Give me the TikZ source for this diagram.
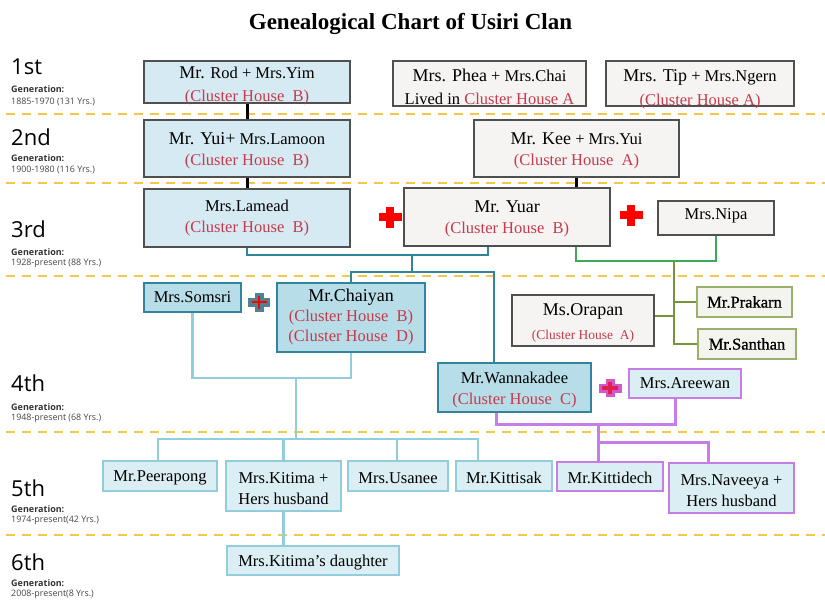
\documentclass[tikz,border=0pt]{standalone}
\usepackage{fontspec}
\setmainfont{Liberation Serif}
\newfontfamily\labfont{Open Sans}
\newfontfamily\semib[FakeBold=0.8]{Liberation Serif}
\usetikzlibrary{calc}
\definecolor{boxblue}{HTML}{D6EAF3}
\definecolor{boxgrey}{HTML}{F6F3F3}
\definecolor{edgegrey}{HTML}{505050}
\definecolor{tealc}{HTML}{31849B}
\definecolor{tealfill}{HTML}{B7DDE8}
\definecolor{lbline}{HTML}{92CDDC}
\definecolor{lbfill}{HTML}{DAEEF3}
\definecolor{purp}{HTML}{C77DE6}
\definecolor{olivec}{HTML}{9BAF6E}
\definecolor{olivefill}{HTML}{F4F4EE}
\definecolor{olivel}{HTML}{77933C}
\definecolor{greenl}{HTML}{3DAA5A}
\definecolor{redt}{HTML}{C43C4C}
\definecolor{gold}{HTML}{F2C94C}
\definecolor{crossteal}{HTML}{4F8394}
\definecolor{crosspink}{HTML}{D457C9}
\definecolor{crossred}{HTML}{E0204F}
\newcommand\cl[1]{\textcolor{redt}{#1}}
\newcommand\bigpart[1]{{\fontsize{18}{21}\selectfont #1}}
\newcommand\hstrut[1]{\rule{0pt}{#1pt}}
\newcommand\dstrut[1]{\rule[-#1pt]{0pt}{#1pt}}
\begin{document}
\begin{tikzpicture}[x=1pt,y=-1pt,
  base/.style={rectangle, inner sep=0pt, align=center, font=\fontsize{16.5}{21}\selectfont},
  wide/.style={font=\fontsize{16.5}{23}\selectfont},
  wider/.style={font=\fontsize{16.5}{24}\selectfont},
  bluebox/.style={base, draw=edgegrey, line width=1.1pt, fill=boxblue},
  greybox/.style={base, draw=edgegrey, line width=1.1pt, fill=boxgrey},
  tealbox/.style={base, draw=tealc, line width=2.5pt, fill=tealfill},
  lbbox/.style={base, draw=lbline, line width=2.8pt, fill=lbfill},
  purpbox/.style={base, draw=purp, line width=2.8pt, fill=lbfill},
  olivebox/.style={base, draw=olivec, line width=1.6pt, fill=olivefill},
  sz/.style 2 args={minimum width=#1pt, minimum height=#2pt},
  genbig/.style={anchor=west, inner sep=0pt, font=\labfont\fontsize{22}{24}\selectfont},
  gensub/.style={anchor=west, inner sep=0pt, text=black!80, font=\labfont\bfseries\fontsize{9}{10}\selectfont},
  gendate/.style={anchor=west, inner sep=0pt, text=black!72, font=\labfont\fontsize{8.9}{10}\selectfont},
  sepline/.style={draw=gold, line width=2pt, dash pattern=on 9pt off 7pt},
  blk/.style={draw=black, line width=3pt},
  tealw/.style={draw=tealc, line width=2.5pt},
  lbw/.style={draw=lbline, line width=2.5pt},
  greenw/.style={draw=greenl, line width=2.5pt},
  olivew/.style={draw=olivel, line width=2pt},
  purpw/.style={draw=purp, line width=3pt},
  redcross/.pic={\fill[red] (-11.5,-4) rectangle (11.5,4); \fill[red] (-4,-10.5) rectangle (4,10.5);},
  tealcross/.pic={\fill[crossteal] (-11,-4.5) rectangle (11,4.5); \fill[crossteal] (-4.5,-9.5) rectangle (4.5,9.5);
                  \fill[red] (-7.5,-1.3) rectangle (7.5,1.3); \fill[red] (-1.3,-6.5) rectangle (1.3,6.5);},
  pinkcross/.pic={\fill[crosspink] (-11.5,-4.5) rectangle (11.5,4.5); \fill[crosspink] (-4.5,-9) rectangle (4.5,9);
                  \fill[crossred] (-8,-1.8) rectangle (8,1.8); \fill[crossred] (-1.8,-6) rectangle (1.8,6);}
]
\useasboundingbox (0,0) rectangle (825,600);
\fill[white] (0,0) rectangle (825,600);

% title
\node[inner sep=0pt, font=\fontsize{23}{26}\selectfont\bfseries] (title) at (410.5,24) {Genealogical Chart of Usiri Clan};

% separator lines
\foreach \yy in {114,183,276,432,535} {\draw[sepline] (6,\yy) -- (825,\yy);}

% generation labels
\node[genbig] (g1a) at (11,67) {1st};
\node[gensub] (g1b) at (11,89) {Generation:};
\node[gendate] (g1c) at (11,101.5) {1885-1970 (131 Yrs.)};
\node[genbig] (g2a) at (11,137) {2nd};
\node[gensub] (g2b) at (11,158) {Generation:};
\node[gendate] (g2c) at (11,170) {1900-1980 (116 Yrs.)};
\node[genbig] (g3a) at (11,229) {3rd};
\node[gensub] (g3b) at (11,252) {Generation:};
\node[gendate] (g3c) at (11,263.5) {1928-present (88 Yrs.)};
\node[genbig] (g4a) at (11,383) {4th};
\node[gensub] (g4b) at (11,407) {Generation:};
\node[gendate] (g4c) at (11,418.5) {1948-present (68 Yrs.)};
\node[genbig] (g5a) at (11,488) {5th};
\node[gensub] (g5b) at (11,509) {Generation:};
\node[gendate] (g5c) at (11,520.5) {1974-present(42 Yrs.)};
\node[genbig] (g6a) at (11,562) {6th};
\node[gensub] (g6b) at (11,583) {Generation:};
\node[gendate] (g6c) at (11,594.5) {2008-present(8 Yrs.)};

% 1st generation (boxes, with their text set over them)
\node[bluebox, sz={206}{42}] (rod) at (247,82) {};
\node[base, wide] (rodtext) at (247,85.5) {\bigpart{Mr.} Rod + Mrs.Yim\\\cl{(Cluster House~~B)}};
\node[greybox, sz={193}{45}] (phea) at (489.5,83.5) {};
\node[base, wide] (pheatext) at (489.5,87) {\bigpart{Mrs. Phea} + Mrs.Chai\\Lived in \cl{Cluster House A}};
\node[greybox, sz={188}{45}] (tip) at (700,83.5) {};
\node[base, wider] (tiptext) at (700,89) {\bigpart{Mrs. Tip} + Mrs.Ngern\\\cl{(Cluster House A)}};

% 2nd generation
\node[bluebox, sz={206}{57}] (yui) at (247,148.5) {\hstrut{17}\bigpart{Mr. Yui+} Mrs.Lamoon\\\cl{(Cluster House~~B)}};
\node[greybox, sz={205}{57}] (kee) at (576.5,148.5) {\hstrut{16}\bigpart{Mr. Kee} + Mrs.Yui\\\cl{(Cluster House~~A)}};

% 3rd generation
\node[bluebox, sz={206}{58}] (lamead) at (247,218) {Mrs.Lamead\\\cl{(Cluster House~~B)}};
\node[greybox, sz={206}{58}] (yuar) at (507,217) {\hstrut{16}\bigpart{Mr. Yuar}\\\cl{(Cluster House~~B)}};
\node[greybox, sz={116}{34}] (nipa) at (716,218) {Mrs.Nipa\dstrut{8}};
\pic at (390,217) {redcross};
\pic at (631,215) {redcross};

% 4th generation
\node[tealbox, sz={97}{29}] (somsri) at (192.5,297.5) {Mrs.Somsri};
\node[tealbox, sz={148}{69}] (chaiyan) at (351,317.5) {\bigpart{Mr.Chaiyan}\\[-1pt]\cl{(Cluster House~~B)}\\[-1pt]\cl{(Cluster House~~D)}};
\pic at (259,302) {tealcross};
\node[greybox, sz={142}{51}] (orapan) at (583,320.5) {\hstrut{17}\bigpart{Ms.Orapan}\\[3pt]{\fontsize{13.5}{15}\selectfont\cl{(Cluster House~~A)}}};
\node[olivebox, sz={95}{30}] (prakarn) at (744.5,302) {\semib Mr.Prakarn};
\node[olivebox, sz={98}{30}] (santhan) at (747,344) {\semib Mr.Santhan};
\node[tealbox, sz={153}{49}] (wann) at (514.5,387.5) {\hstrut{17.3}Mr.Wannakadee\\\cl{(Cluster House~~C)}};
\node[purpbox, sz={112}{29}] (areewan) at (685,383.5) {Mrs.Areewan};
\pic at (610,388) {pinkcross};

% 5th generation
\node[lbbox, sz={114}{30}] (peer) at (160,476) {\hstrut{14.5}Mr.Peerapong};
\node[lbbox, sz={115}{50}] (kitima) at (283.5,486) {\hstrut{15.3}Mrs.Kitima +\\Hers husband};
\node[lbbox, sz={100}{30}] (usanee) at (398,476) {\hstrut{14.5}Mrs.Usanee};
\node[lbbox, sz={96}{30}] (kittisak) at (504,476) {\hstrut{14.5}Mr.Kittisak};
\node[purpbox, sz={106}{29}] (kittidech) at (610,476.5) {\hstrut{14.5}Mr.Kittidech};
\node[purpbox, sz={125}{50}] (naveeya) at (731.5,488) {\hstrut{15.3}Mrs.Naveeya +\\Hers husband};

% 6th generation
\node[lbbox, sz={172}{29}] (daughter) at (313,560.5) {\hstrut{15.3}Mrs.Kitima’s daughter};

% junction coordinates
\coordinate (j1) at (412,255);
\coordinate (j2) at (412,272);
\coordinate (j3) at (296,378);
\coordinate (j4) at (296,439);
\coordinate (q1) at (674,261);
\coordinate (p1) at (598,424);
\coordinate (p2) at (598,442);

% black descent lines
\draw[blk] (rod.south) -- (yui.north);
\draw[blk] (yui.south) -- (lamead.north);
\draw[blk] (kee.south) -- (kee.south |- yuar.north);

% Lamead + Yuar
\draw[tealw] (lamead.south) |- (j1) -| ([xshift=-19pt]yuar.south);
\draw[tealw] (j1) -- (j2);
\draw[tealw] (chaiyan.north) |- (j2) -| ([xshift=-20.5pt]wann.north);

% Yuar + Nipa
\draw[greenw] ([xshift=69pt]yuar.south) |- (q1) -| (nipa.south);
\draw[olivew] (q1) |- (santhan.west);
\draw[olivew] (prakarn.west) -- (prakarn.west -| q1);
\draw[olivew] ([yshift=4.5pt]orapan.east) -- +(20pt,0);

% Somsri + Chaiyan
\draw[lbw] (somsri.south) |- (j3) -| (chaiyan.south);
\draw[lbw] (j3) -- (j4);
\draw[lbw] ([xshift=-2pt]peer.north) |- (j4) -| ([xshift=-26pt]kittisak.north);
\draw[lbw] (kitima.north) -- (kitima.north |- j4);
\draw[lbw] ([xshift=-1pt]usanee.north) -- ([xshift=-1pt]usanee.north |- j4);
\draw[lbw] (kitima.south) -- (kitima.south |- daughter.north);

% Wannakadee + Areewan
\draw[purpw] ([xshift=-18.5pt]wann.south) |- (p1) -| ([xshift=-10pt]areewan.south);
\draw[purpw] (p1) -- ([xshift=-12pt]kittidech.north);
\draw[purpw] (p2) -| ([xshift=-23.5pt]naveeya.north);
\end{tikzpicture}
\end{document}
